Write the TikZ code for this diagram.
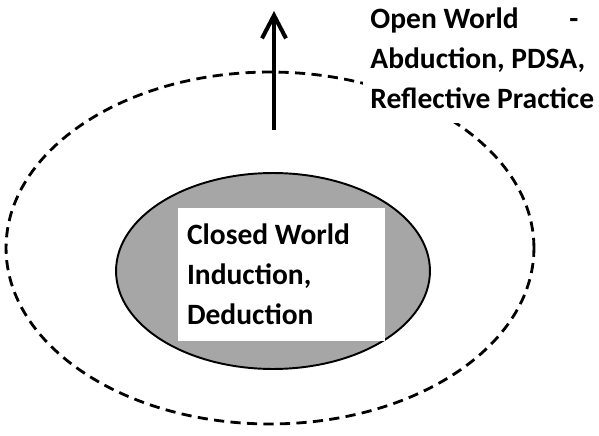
\documentclass[tikz,border=0pt]{standalone}
\usepackage{fontspec}
\setmainfont{Carlito}
\usetikzlibrary{shapes.geometric, arrows.meta, positioning}

\begin{document}
\begin{tikzpicture}[
    x=0.02cm, y=-0.02cm,
    openworld/.style={ellipse, draw, dash pattern=on 5.8pt off 3.6pt, line width=1.6pt, minimum width=10.56cm, minimum height=7.04cm},
    closedworld/.style={ellipse, draw, fill=gray!70, line width=1.1pt, minimum width=6.28cm, minimum height=3.92cm},
    worldtext/.style={font=\fontsize{16.8}{22.8}\selectfont\bfseries, align=flush left, inner sep=0pt},
    textbox/.style={rectangle, fill=white, minimum width=4.14cm, minimum height=2.66cm, text width=3.78cm, inner xsep=0.18cm},
    arrow/.style={-{Straight Barb[length=0.46cm, width=0.48cm]}, line width=2.3pt}
]
\useasboundingbox (0,0) rectangle (599,436);

\node[openworld] (open) at (270,248) {};
\node[closedworld] (closed) at (273,271) {};
\node[textbox, worldtext] (closedtext) at (281.5,274.5) {Closed World\\Induction,\\Deduction};

\coordinate (arrowfoot) at (274,130);
\coordinate (arrowtip) at (274,11);
\draw[arrow] (arrowfoot) -- (arrowtip);

\node[worldtext, anchor=west, fill=white, inner xsep=4pt, inner ysep=8pt] (opentext) at (363,58) {\makebox[4.16cm][l]{Open World\hfill-}\\Abduction, PDSA,\\Reflective Practice};
\end{tikzpicture}
\end{document}
